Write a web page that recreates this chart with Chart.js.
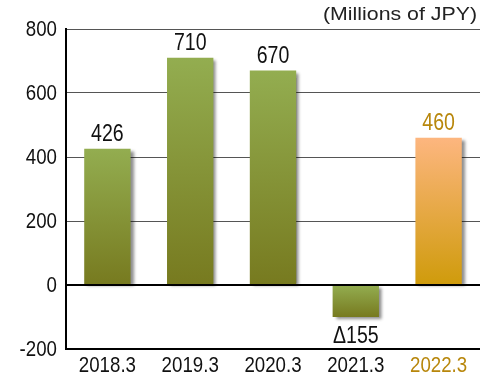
<!DOCTYPE html>
<html><head><meta charset="utf-8">
<script src="https://cdn.jsdelivr.net/npm/chart.js@4/dist/chart.umd.min.js"></script>
<style>html,body{margin:0;padding:0;background:#fff}#wrap{width:480px;height:376px}</style>
</head><body><div id="wrap"><canvas id="c" width="480" height="376"></canvas></div>
<script>
const categories = ['2018.3', '2019.3', '2020.3', '2021.3', '2022.3'];
const barValues = [426, 710, 670, -100, 460];
const valueLabels = ['426', '710', '670', '\u0394155', '460'];
const yTicks = [-200, 0, 200, 400, 600, 800];
const unitLabel = '(Millions of JPY)';

const FONT = '"Liberation Sans", Arial, sans-serif';
const SX = 0.85;
const HIGHLIGHT = 4;
const GOLD = '#b8870c';
const INK = '#111';

function barGradient(ctx) {
  const chart = ctx.chart;
  const y = chart.scales.y;
  if (!y || ctx.dataIndex === undefined) return '#8fa84a';
  const v = barValues[ctx.dataIndex];
  const p1 = y.getPixelForValue(Math.max(v, 0));
  const p2 = y.getPixelForValue(Math.min(v, 0));
  if (!isFinite(p1) || !isFinite(p2) || p1 === p2) return '#8fa84a';
  const g = chart.ctx.createLinearGradient(0, p1, 0, p2);
  if (ctx.dataIndex === HIGHLIGHT) {
    g.addColorStop(0, '#fdb67f');
    g.addColorStop(1, '#cf9b0b');
  } else {
    g.addColorStop(0, '#93ad50');
    g.addColorStop(1, '#777a1f');
  }
  return g;
}

function narrowText(c, text, x, y, align, size, color) {
  c.save();
  c.font = size + 'px ' + FONT;
  c.fillStyle = color;
  c.textAlign = align;
  c.textBaseline = 'alphabetic';
  c.translate(x, y);
  c.scale(SX, 1);
  c.fillText(text, 0, 0);
  c.restore();
}

const shadowPlugin = {
  id: 'shadow',
  beforeDatasetsDraw(chart) {
    const c = chart.ctx;
    c.save();
    c.shadowColor = 'rgba(0,0,0,0.45)';
    c.shadowBlur = 3;
    c.shadowOffsetX = 3;
    c.shadowOffsetY = 2;
  },
  afterDatasetsDraw(chart) {
    chart.ctx.restore();
  }
};

const textPlugin = {
  id: 'texts',
  afterDraw(chart) {
    const c = chart.ctx;
    const xs = chart.scales.x, ys = chart.scales.y;
    // y tick labels
    yTicks.forEach(v => {
      narrowText(c, String(v), 57, ys.getPixelForValue(v) + 7, 'right', 22, INK);
    });
    // x tick labels
    categories.forEach((cat, i) => {
      narrowText(c, cat, xs.getPixelForValue(i), 372, 'center', 22, i === HIGHLIGHT ? GOLD : INK);
    });
    // value labels
    const meta = chart.getDatasetMeta(0);
    meta.data.forEach((bar, i) => {
      const v = barValues[i];
      const yPos = v >= 0 ? bar.y - 8 : bar.y + 26;
      narrowText(c, valueLabels[i], bar.x, yPos, 'center', 23, i === HIGHLIGHT ? GOLD : INK);
    });
    // unit label, fitted to the reference width
    c.save();
    c.font = '19px ' + FONT;
    const w = c.measureText(unitLabel).width;
    const target = 154;
    c.fillStyle = '#222';
    c.textAlign = 'right';
    c.textBaseline = 'alphabetic';
    c.translate(477, 20);
    c.scale(target / w, 1);
    c.fillText(unitLabel, 0, 0);
    c.restore();
  }
};

new Chart(document.getElementById('c'), {
  type: 'bar',
  data: {
    labels: categories,
    datasets: [{
      data: barValues,
      backgroundColor: barGradient,
      borderWidth: 0,
      barPercentage: 0.56,
      categoryPercentage: 1.0
    }]
  },
  options: {
    responsive: false,
    animation: false,
    devicePixelRatio: 1,
    layout: { padding: { top: 29, right: 0, left: 0, bottom: 0 } },
    plugins: { legend: { display: false }, tooltip: { enabled: false }, title: { display: false } },
    scales: {
      x: {
        grid: { display: false },
        border: { display: true, color: '#000', width: 2 },
        ticks: { display: false },
        afterFit(scale) { scale.height = 27; }
      },
      y: {
        min: -200, max: 800,
        afterBuildTicks(scale) { scale.ticks = yTicks.map(v => ({ value: v })); },
        grid: {
          color: (ctx) => (ctx.tick && (ctx.tick.value === 0 || ctx.tick.value === -200)) ? '#000' : '#555',
          lineWidth: (ctx) => (ctx.tick && ctx.tick.value === 0) ? 2 : 1,
          drawTicks: false
        },
        border: { display: true, color: '#000', width: 2 },
        ticks: { display: false },
        afterFit(scale) { scale.width = 66; }
      }
    }
  },
  plugins: [shadowPlugin, textPlugin]
});
</script>
</body></html>
